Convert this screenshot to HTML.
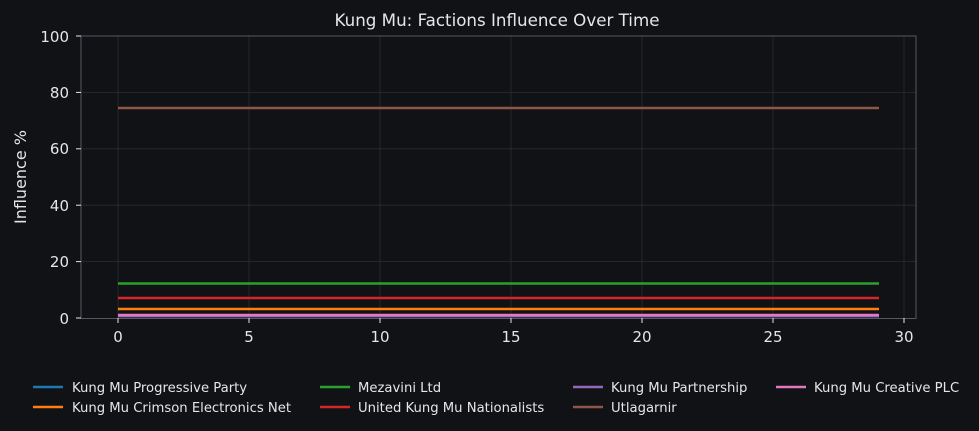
<!DOCTYPE html>
<html><head><style>
html,body{margin:0;background:#111215;overflow:hidden;}
svg{display:block;}
text{font-family:"DejaVu Sans","Liberation Sans",sans-serif;}
</style></head><body>
<svg width="979" height="431" xmlns="http://www.w3.org/2000/svg">
<rect width="979" height="431" fill="#111215"/>
<text x="497" y="26" fill="#e6e6e6" font-size="16.7" text-anchor="middle">Kung Mu: Factions Influence Over Time</text>
<g stroke="#2a2c30" stroke-width="0.8">
<line x1="118" y1="36" x2="118" y2="318"/><line x1="249" y1="36" x2="249" y2="318"/><line x1="380" y1="36" x2="380" y2="318"/><line x1="511" y1="36" x2="511" y2="318"/><line x1="642" y1="36" x2="642" y2="318"/><line x1="773" y1="36" x2="773" y2="318"/><line x1="904" y1="36" x2="904" y2="318"/>
<line x1="81" y1="92.4" x2="916" y2="92.4"/><line x1="81" y1="148.8" x2="916" y2="148.8"/><line x1="81" y1="205.2" x2="916" y2="205.2"/><line x1="81" y1="261.6" x2="916" y2="261.6"/>
</g>
<rect x="81" y="36" width="835" height="282.5" fill="none" stroke="#55585e" stroke-width="1"/>
<g stroke-width="2.5">
<line x1="118" x2="879" y1="108" y2="108" stroke="#8c564b"/>
<line x1="118" x2="879" y1="283.5" y2="283.5" stroke="#2ca02c"/>
<line x1="118" x2="879" y1="298" y2="298" stroke="#d62728"/>
<line x1="118" x2="879" y1="309" y2="309" stroke="#ff7f0e"/>
<line x1="118" x2="879" y1="316" y2="316" stroke="#1f77b4"/>
<line x1="118" x2="879" y1="316" y2="316" stroke="#9467bd"/>
<line x1="118" x2="879" y1="315" y2="315" stroke="#e377c2"/>
</g>
<g stroke="#e6e6e6" stroke-width="1">
<line x1="118" y1="318" x2="118" y2="323"/><line x1="249" y1="318" x2="249" y2="323"/><line x1="380" y1="318" x2="380" y2="323"/><line x1="511" y1="318" x2="511" y2="323"/><line x1="642" y1="318" x2="642" y2="323"/><line x1="773" y1="318" x2="773" y2="323"/><line x1="904" y1="318" x2="904" y2="323"/>
<line x1="76" y1="36" x2="81" y2="36"/><line x1="76" y1="92.4" x2="81" y2="92.4"/><line x1="76" y1="148.8" x2="81" y2="148.8"/><line x1="76" y1="205.2" x2="81" y2="205.2"/><line x1="76" y1="261.6" x2="81" y2="261.6"/><line x1="76" y1="318" x2="81" y2="318"/>
</g>
<g fill="#e6e6e6" font-size="15" text-anchor="middle">
<text x="118" y="342">0</text><text x="249" y="342">5</text><text x="380" y="342">10</text><text x="511" y="342">15</text><text x="642" y="342">20</text><text x="773" y="342">25</text><text x="904" y="342">30</text>
</g>
<g fill="#e6e6e6" font-size="15" text-anchor="end">
<text x="69" y="42">100</text><text x="69" y="98">80</text><text x="69" y="154">60</text><text x="69" y="211">40</text><text x="69" y="267">20</text><text x="69" y="324">0</text>
</g>
<text transform="translate(26,177) rotate(-90)" fill="#e6e6e6" font-size="16" text-anchor="middle">Influence %</text>
<g font-size="13.2" fill="#e6e6e6" stroke-width="2.5">
<line x1="33" x2="63" y1="387" y2="387" stroke="#1f77b4"/><text x="72" y="392">Kung Mu Progressive Party</text>
<line x1="33" x2="63" y1="407" y2="407" stroke="#ff7f0e"/><text x="72" y="412">Kung Mu Crimson Electronics Net</text>
<line x1="320" x2="350" y1="387" y2="387" stroke="#2ca02c"/><text x="358" y="392">Mezavini Ltd</text>
<line x1="320" x2="350" y1="407" y2="407" stroke="#d62728"/><text x="358" y="412">United Kung Mu Nationalists</text>
<line x1="573" x2="603" y1="387" y2="387" stroke="#9467bd"/><text x="611" y="392">Kung Mu Partnership</text>
<line x1="573" x2="603" y1="407" y2="407" stroke="#8c564b"/><text x="611" y="412">Utlagarnir</text>
<line x1="776" x2="806" y1="387" y2="387" stroke="#e377c2"/><text x="814" y="392">Kung Mu Creative PLC</text>
</g>
</svg>
</body></html>
